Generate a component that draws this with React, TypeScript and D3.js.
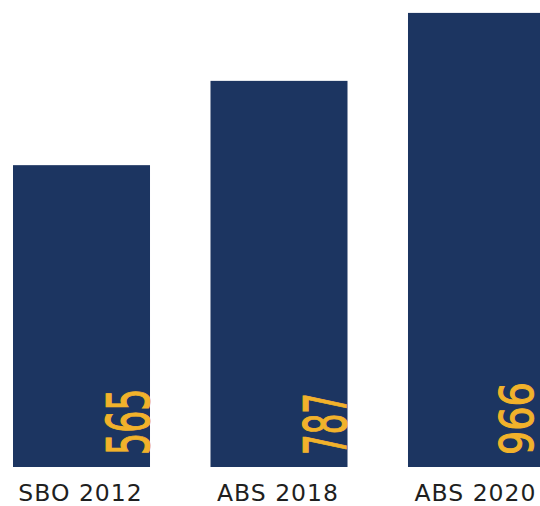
import React from "react";
import * as d3 from "d3";

const categories = ["SBO 2012", "ABS 2018", "ABS 2020"];
const values = [565, 787, 966];
const valueLabels = ["565", "787", "966"];

const W = 540;
const H = 506;
const NAVY = "#1c3561";
const GOLD = "#f1b22b";

export default function App() {
  const x = d3
    .scaleBand<string>()
    .domain(categories)
    .range([-17.25, 575.25])
    .paddingInner(0.3063)
    .paddingOuter(0.1532);
  const y = d3.scaleLinear().domain([-230, 1000]).range([467, 0]);
  const bw = x.bandwidth();
  const labelStyle = [
    { size: 58, sx: 0.6, dx: -1 },
    { size: 58, sx: 0.56, dx: -2 },
    { size: 46, sx: 0.83, dx: -12 },
  ];
  return (
    <svg
      width={W}
      height={H}
      style={{ position: "absolute", left: 0, top: 0, display: "block" }}
    >
      <rect x={0} y={0} width={W} height={H} fill="#ffffff" />
      {categories.map((c, i) => {
        const x0 = x(c)!;
        const st = labelStyle[i];
        return (
          <g key={c}>
            <rect
              x={x0}
              y={y(values[i])}
              width={bw}
              height={y(-230) - y(values[i])}
              fill={NAVY}
            />
            <text
              transform={`translate(${x0 + bw + st.dx},${y(-230) - 12}) rotate(-90) scale(${st.sx},1)`}
              fontFamily="DejaVu Sans"
              fontSize={st.size}
              fill={GOLD}
              stroke={GOLD}
              strokeWidth={1.2}
              textAnchor="start"
            >
              {valueLabels[i]}
            </text>
            <text
              x={x0 + bw / 2 - 1}
              y={501}
              textAnchor="middle"
              fontFamily="DejaVu Sans"
              fontSize={23.5}
              letterSpacing={1}
              fill="#1f1f1f"
            >
              {c}
            </text>
          </g>
        );
      })}
    </svg>
  );
}
